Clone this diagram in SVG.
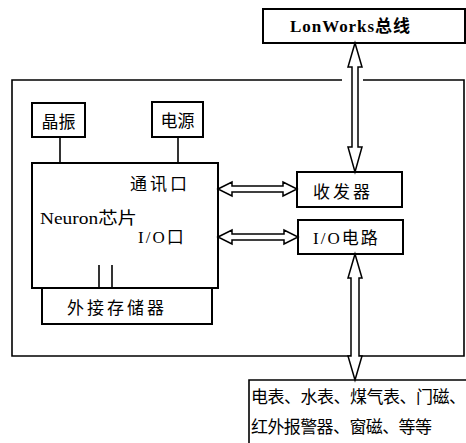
<svg xmlns="http://www.w3.org/2000/svg" width="466" height="443" viewBox="0 0 466 443">
<style>
.b{fill:#fff;stroke:#000;stroke-width:2}
.l{fill:none;stroke:#000;stroke-width:1.6}
.a{fill:#fff;stroke:#000;stroke-width:1.5;stroke-linejoin:miter}
text{font-family:"Liberation Serif","Noto Sans CJK SC",serif;font-size:17px;fill:#000}
</style>
<rect width="466" height="443" fill="#fff"/>
<g id="outer">
<path class="l" d="M342 80 H12 V356 H464 V80 H363" stroke-width="2"/>
</g>
<g id="lonworks"><rect class="b" x="263" y="9" width="202" height="34"/><text x="350" y="32" text-anchor="middle" font-weight="bold" textLength="120">LonWorks总线</text></g>
<g id="crystal"><rect class="b" x="32" y="103" width="53" height="34"/><text x="58.5" y="128" text-anchor="middle">晶振</text></g>
<g id="power"><rect class="b" x="152" y="102" width="51" height="35"/><text x="177.5" y="127" text-anchor="middle">电源</text></g>
<g id="chip"><rect class="b" x="32" y="163" width="186" height="125"/>
<text x="130" y="190" letter-spacing="3">通讯口</text>
<text x="40" y="224" font-size="18" textLength="97" lengthAdjust="spacingAndGlyphs">Neuron芯片</text>
<text x="138" y="243" letter-spacing="2">I/O口</text></g>
<g id="memory"><rect class="b" x="42" y="288" width="170" height="36"/><text x="67" y="314" letter-spacing="3">外接存储器</text></g>
<g id="transceiver"><rect class="b" x="297" y="172" width="105" height="35"/><text x="313" y="198" letter-spacing="3">收发器</text></g>
<g id="iocircuit"><rect class="b" x="298" y="220" width="105" height="34"/><text x="313" y="244" letter-spacing="2">I/O电路</text></g>
<g id="devices"><path class="l" d="M466 380 H249 V443" stroke-width="2"/>
<text x="251" y="403" textLength="215">电表、水表、煤气表、门磁、</text>
<text x="251" y="433" textLength="181">红外报警器、窗磁、等等</text></g>
<g id="connectors">
<line class="l" x1="60" y1="137" x2="60" y2="163"/>
<line class="l" x1="178" y1="137" x2="178" y2="163"/>
<line class="l" x1="99" y1="265" x2="99" y2="288"/>
<line class="l" x1="112" y1="265" x2="112" y2="288"/>
<polygon class="a" points="355,43 362,67 358,67 358,147 362,147 355,172 348,147 352,147 352,67 348,67"/>
<polygon class="a" points="355,254 362,278 359,278 359,356 362,356 355,380 348,356 351,356 351,278 348,278"/>
<polygon class="a" points="218,189 232,182 232,186 283,186 283,182 297,189 283,196 283,192 232,192 232,196"/>
<polygon class="a" points="218,237 232,230 232,234 284,234 284,230 298,237 284,244 284,240 232,240 232,244"/>
</g>
</svg>
